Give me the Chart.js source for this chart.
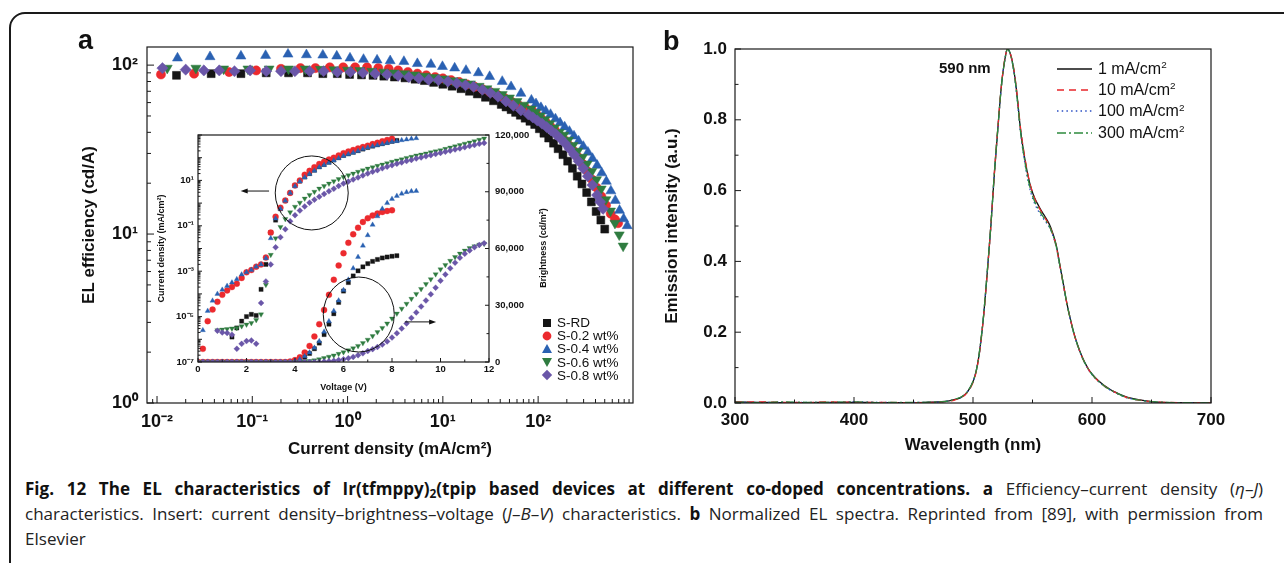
<!DOCTYPE html>
<html>
<head>
<meta charset="utf-8">
<script src="https://cdn.jsdelivr.net/npm/chart.js@4.4.1/dist/chart.umd.min.js"></script>
<style>
body{margin:0;width:1284px;height:563px;overflow:hidden;background:#fff;position:relative;font-family:"Liberation Sans",Arial,sans-serif;color:#111}
canvas{position:absolute}
.frame{position:absolute;left:9px;top:12px;width:1320px;height:620px;border:2.5px solid #1a1a1a;border-radius:16px}
.plbl{position:absolute;font-weight:bold;font-size:27px;line-height:1}
.legA{position:absolute;left:541px;top:316px;font-size:13.5px;line-height:13.2px}
.legA div{display:flex;align-items:center;height:13.2px;white-space:nowrap}
.legA svg{width:12px;height:12px;margin-right:4px}
.legB{position:absolute;left:1055px;top:58px;font-size:16px}
.legB div{display:flex;align-items:center;height:21.3px;white-space:nowrap}
.legB svg{width:38px;height:6px;margin-right:5px}
.up{font-size:62%;position:relative;top:-0.55em}
.rt{position:absolute;white-space:nowrap;font-weight:bold}
.cap{position:absolute;left:25px;top:476px;font-family:"Open Sans",sans-serif;font-size:15px;line-height:25px;color:#222}
.cap span.l{display:inline-block;white-space:nowrap}
.cap b{color:#111}
.cap sub{font-size:70%;vertical-align:-0.25em;line-height:0}
</style>
</head>
<body>
<div class="frame"></div>
<canvas id="cA" width="660" height="470" style="left:0;top:0"></canvas>
<canvas id="cIn" width="430" height="280" style="left:140px;top:120px"></canvas>
<canvas id="cB" width="634" height="470" style="left:650px;top:0"></canvas>

<div class="plbl" style="left:78px;top:27px">a</div>
<div class="plbl" style="left:663px;top:28px">b</div>
<div class="rt" style="left:543px;top:248px;font-size:9px;transform:translate(-50%,-50%) rotate(-90deg)">Brightness (cd/m<span class="up">2</span>)</div>
<div class="rt" style="left:939px;top:60px;font-size:15px;line-height:1">590 nm</div>

<div class="legA" id="legA"></div>
<div class="legB" id="legB"></div>

<div class="cap" id="cap">
<span class="l j"><b>Fig. 12 The EL characteristics of Ir(tfmppy)<sub>2</sub>(tpip based devices at different co-doped concentrations.</b> <b>a</b> Efficiency–current density (<i>η</i>–<i>J</i>)</span><br>
<span class="l j" id="capRef">characteristics. Insert: current density–brightness–voltage (<i>J</i>–<i>B</i>–<i>V</i>) characteristics. <b>b</b> Normalized EL spectra. Reprinted from [89], with permission from</span><br>
<span class="l">Elsevier</span>
</div>

<script>
// ---- panel a, main plot: EL efficiency (cd/A) vs current density (mA/cm2)
var jRD   = [0.016,0.037,0.076,0.14,0.24,0.38,0.55,0.78,1.05,1.4,1.85,2.4,3.1,4,5.1,6.4,8,10,12.5,15.5,19,23,28,34,41,46,52,58,65,73,82,92,103,115,129,145,162,182,204,229,257,288,323,362,406,455,500];
var effRD = [87,89,89,90,90,90,89,89,88,87.5,87,86,85,84,82.5,81,79,77,75,72.5,70,67.5,64.5,61.5,58.5,56.5,54.5,52.5,50.5,48.5,46.5,44.5,42,39.5,37,34.5,32,29.5,27,24.5,22,19.8,17.6,15.5,13.6,12.1,10.7];
var j02   = [0.011,0.0245,0.057,0.11,0.2,0.32,0.46,0.65,0.9,1.2,1.6,2.1,2.7,3.4,4.3,5.4,6.7,8.3,10,12.2,14.8,17.8,21.5,26,31,37,44,52,62,73,86,96,107,120,134,150,168,188,210,235,263,294,329,368,412,461,516,578,640,690];
var eff02 = [88,89,91,93,95,96,96,97,97,97,97,96,95,93,91,89,87,85,83.5,81.5,79.5,77,74.5,72,69.5,67,64,61,58,56,54,51,48.5,46,43.5,41,38.5,36,33.5,31,28.5,26,23.5,21,18.8,16.7,14.8,13.2,12.2,11.6];
var j04   = [0.0164,0.036,0.076,0.138,0.237,0.37,0.55,0.77,1.06,1.47,2.04,2.8,3.9,5.4,7.5,9.9,13.3,17.5,23.6,31,42,52,66,85,95,107,120,135,152,170,190,213,238,266,298,333,372,416,465,520,580,645,715,790,860];
var eff04 = [110,112,113,114,116,115,114.5,113,110,108,107,106,105,102,101,98,96,93,90,85.5,80,74.5,68,62,59,56,53.5,51,48,45.5,43,40.5,38,35.5,33,30.5,28,25.5,23,20.5,18,15.8,13.8,12.3,11.2];
var j06   = [0.0128,0.0256,0.05,0.09,0.15,0.24,0.36,0.52,0.72,1,1.35,1.8,2.4,3.1,4,5.1,6.5,8.2,10.3,12.8,15.8,19.5,24,29,35,42,50,60,71,84,94,105,118,132,148,166,186,208,233,261,292,327,366,410,459,514,575,640,710,780];
var eff06 = [96,96,95,95,95,95,95,94.5,94,93.5,93,92,91,90,89,87.5,86,84.5,83,81,79.5,77.5,75,72.5,70,67,64,61,58,55,52.5,50,47.5,45,42.5,40,38.5,36,33.5,31,28.5,26,23.5,21,18.5,16,13.7,11.6,9.9,8.5];
var j08   = [0.0114,0.02,0.031,0.045,0.065,0.095,0.14,0.2,0.28,0.4,0.56,0.78,1.07,1.45,1.95,2.6,3.4,4.4,5.6,7.1,9,11.3,14,17.3,21,26,31.5,38,46,55,66,79,88,98,110,123,137,153,171,191,213,238,266,297,332,371,415,448,480];
var eff08 = [96,94,93,93,92,93,92,92,92,92,92,91,91,90,89,88,86.5,85,83.5,82,81.5,80,78,76,74.5,71.5,68.5,65,61,57.5,54,51,49,47,45,43,41,39,36.8,34.5,32,29.5,27,24.5,22,19.5,17,15.5,14.1];

// ---- panel a, inset: log10 J (mA/cm2) and brightness (cd/m2) vs voltage
var volts = [0,0.2,0.4,0.6,0.8,1,1.2,1.4,1.6,1.8,2,2.2,2.4,2.6,2.8,3,3.2,3.4,3.6,3.8,4,4.2,4.4,4.6,4.8,5,5.2,5.4,5.6,5.8,6,6.2,6.4,6.6,6.8,7,7.2,7.4,7.6,7.8,8,8.2,8.4,8.6,8.8,9,9.2,9.4,9.6,9.8,10,10.2,10.4,10.6,10.8,11,11.2,11.4,11.6,11.8];
var logJRD = [null,null,null,null,null,null,null,-5.9,-5.5,-5.2,-5.0,-4.9,-4.95,-3.8,-2.7,-1.3,-0.75,-0.25,0.1,0.45,0.78,0.97,1.15,1.3,1.45,1.6,1.7,1.8,1.9,2.0,2.1,2.17,2.24,2.31,2.38,2.45,2.51,2.57,2.62,2.67,2.72,2.76];
var lumRD  = [0,0,0,0,0,0,0,0,0,0,0,0,0,0,0,0,0,0,0,0,500,1200,2500,4500,7000,10000,14500,20000,25500,31500,37500,42000,45500,48200,50300,52000,53200,54200,55000,55500,55900,56200];
var logJ02 = [null,-6.42,-5.2,-4.69,-4.35,-4.04,-3.85,-3.7,-3.55,-3.3,-3.05,-2.95,-2.8,-2.7,-2.4,-1.3,-0.6,-0.2,0.12,0.45,0.78,1.0,1.25,1.42,1.58,1.72,1.82,1.92,2.0,2.1,2.2,2.27,2.34,2.41,2.47,2.53,2.6,2.66,2.72,2.78,2.83];
var lum02  = [0,0,0,0,0,0,0,0,0,0,0,0,0,0,0,0,0,0,0,300,1000,2500,5000,8500,13500,20000,27500,35500,43500,51000,57500,63000,67500,71000,74000,76000,77500,78500,79300,79800,80200];
var logJ04 = [null,-5.6,-4.75,-4.3,-4.0,-3.82,-3.65,-3.5,-3.35,-3.15,-3.05,-2.95,-2.8,-2.7,-2.43,-1.55,-0.68,-0.25,0.1,0.45,0.74,0.95,1.13,1.28,1.43,1.58,1.68,1.78,1.88,1.98,2.08,2.15,2.22,2.3,2.38,2.45,2.5,2.55,2.6,2.65,2.7,2.73,2.77,2.8,2.83,2.86];
var lum04  = [0,0,0,0,0,0,0,0,0,0,0,0,0,0,0,0,0,0,0,0,600,1500,3000,5000,7500,11000,16000,21500,27000,32500,38000,43500,49500,55500,61500,67000,72500,77000,81000,84000,86200,87800,89000,89800,90200,90400];
var logJ06 = [null,null,null,null,-5.6,-5.57,-5.55,-5.52,-5.5,-5.42,-5.35,-5.28,-5.15,-4.9,-3.6,-2.28,-1.55,-1.05,-0.7,-0.4,-0.16,0.02,0.2,0.36,0.5,0.64,0.75,0.86,0.96,1.06,1.15,1.23,1.3,1.38,1.45,1.52,1.58,1.64,1.7,1.76,1.82,1.88,1.93,1.99,2.04,2.1,2.14,2.19,2.24,2.28,2.33,2.39,2.45,2.5,2.56,2.62,2.67,2.73,2.79,2.85];
var lum06  = [0,0,0,0,0,0,0,0,0,0,0,0,0,0,0,0,0,0,0,0,0,0,200,500,900,1500,2100,2800,3500,4300,5200,6200,7300,8500,10000,11800,13700,15800,18000,20400,23000,25600,28200,30800,33400,36000,38600,41200,43800,46400,49000,51300,53500,55500,57300,58900,60200,61200,62000,62500];
var logJ08 = [null,null,null,null,-5.62,-5.7,-5.72,-5.8,-6.42,-6.2,-6.08,-6.05,-6.2,-4.4,-3.45,-2.7,-1.95,-1.5,-1.15,-0.8,-0.53,-0.33,-0.15,0.02,0.15,0.28,0.4,0.52,0.63,0.75,0.86,0.95,1.04,1.13,1.22,1.3,1.38,1.45,1.53,1.6,1.67,1.73,1.79,1.85,1.9,1.96,2.01,2.06,2.11,2.16,2.21,2.26,2.31,2.36,2.41,2.46,2.51,2.56,2.61,2.65];
var lum08  = [0,0,0,0,0,0,0,0,0,0,0,0,0,0,0,0,0,0,0,0,0,0,0,0,0,0,200,400,650,1000,1400,2000,2700,3600,4600,5800,6800,7900,9200,10900,12900,15200,17700,20400,23300,26200,29300,32500,35800,39300,43000,46300,49500,52500,55100,57200,59000,60600,61900,62800];

// ---- panel b: normalized EL spectra
var wavelength = [300,320,340,360,380,400,420,440,460,470,480,485,490,495,500,503,506,509,512,515,518,521,524,527,529,531,533,535,537,540,543,546,549,552,555,558,561,564,567,570,573,576,579,582,585,588,591,594,597,600,605,610,615,620,625,630,640,650,660,680,700];
var el1   = [0.003,0.002,0.001,0.001,0.002,0.002,0.001,0.001,0.002,0.003,0.006,0.01,0.016,0.03,0.06,0.095,0.158,0.25,0.37,0.5,0.65,0.78,0.9,0.975,1.0,0.99,0.965,0.925,0.87,0.77,0.7,0.645,0.605,0.578,0.558,0.54,0.524,0.506,0.48,0.445,0.39,0.335,0.28,0.235,0.195,0.163,0.136,0.114,0.096,0.082,0.064,0.05,0.039,0.03,0.022,0.016,0.009,0.004,0.002,0.001,0];
var el10  = [0.002,0.003,0.002,0.001,0.003,0.002,0.002,0.001,0.001,0.002,0.005,0.009,0.015,0.029,0.058,0.093,0.155,0.248,0.368,0.5,0.652,0.782,0.902,0.977,1.0,0.99,0.967,0.928,0.872,0.775,0.705,0.648,0.606,0.576,0.555,0.537,0.52,0.502,0.477,0.442,0.388,0.333,0.279,0.234,0.194,0.162,0.135,0.113,0.095,0.081,0.063,0.049,0.038,0.029,0.021,0.015,0.008,0.004,0.002,0.001,0];
var el100 = [0.001,0.002,0.002,0.002,0.001,0.003,0.002,0.001,0.002,0.002,0.006,0.01,0.016,0.03,0.06,0.095,0.157,0.25,0.37,0.5,0.65,0.78,0.9,0.975,1.0,0.99,0.963,0.92,0.862,0.762,0.69,0.632,0.59,0.562,0.542,0.526,0.512,0.498,0.474,0.44,0.386,0.332,0.278,0.233,0.193,0.161,0.134,0.112,0.094,0.08,0.062,0.048,0.037,0.028,0.02,0.014,0.008,0.003,0.001,0.001,0];
var el300 = [0.002,0.001,0.003,0.002,0.002,0.003,0.001,0.002,0.002,0.003,0.006,0.011,0.017,0.031,0.061,0.096,0.16,0.252,0.372,0.502,0.652,0.782,0.9,0.974,1.0,0.99,0.963,0.922,0.865,0.765,0.694,0.637,0.596,0.568,0.548,0.531,0.516,0.5,0.476,0.442,0.388,0.334,0.279,0.234,0.194,0.162,0.135,0.113,0.095,0.081,0.063,0.049,0.038,0.029,0.021,0.015,0.008,0.004,0.002,0.001,0];

var devices = ['S-RD','S-0.2 wt%','S-0.4 wt%','S-0.6 wt%','S-0.8 wt%'];
var spectraLabels = ['1 mA/cm²','10 mA/cm²','100 mA/cm²','300 mA/cm²'];

// inset annotations (loops and arrows), in data coordinates
var loops  = [{v:4.69, y:2.8, axis:'yJ', rx:36.5, ry:37}, {v:6.63, y:25100, axis:'yB', rx:35.5, ry:37.5}];
var arrows = [{v1:2.93, v2:1.76, y:3.4, axis:'yJ'}, {v1:8.53, v2:9.82, y:21200, axis:'yB'}];

var cRD = '#151515', c02 = '#ec2a2e', c04 = '#2a61b2', c06 = '#2f7c40', c08 = '#6a56a8';
var colors = [cRD, c02, c04, c06, c08];
var shapes = ['rect','circle','triangle','triangle','rectRot'];
var rots = [0,0,0,180,0];

Chart.defaults.font.family = '"Liberation Sans", Arial, sans-serif';
Chart.defaults.color = '#111';

var SUP = {'-':'⁻','0':'⁰','1':'¹','2':'²','3':'³','4':'⁴','5':'⁵','6':'⁶','7':'⁷','8':'⁸','9':'⁹'};
function decadeOf(v){
  var e = Math.round(Math.log10(v));
  return Math.abs(v / Math.pow(10, e) - 1) < 1e-6 ? e : null;
}
function isLogStep(v){
  var e = Math.floor(Math.log10(v) + 1e-9);
  var m = v / Math.pow(10, e);
  return Math.abs(m - Math.round(m)) < 1e-6;
}
function powLabel(e){
  return '10' + String(e).split('').map(function(c){ return SUP[c]; }).join('');
}
function logKind(v){ return decadeOf(v) !== null ? 'major' : (isLogStep(v) ? 'minor' : null); }

// frame + inward tick marks
function frameTicks(axes){
  return {
    id: 'frameTicks',
    afterDatasetsDraw: function(chart){
      var ctx = chart.ctx, a = chart.chartArea;
      ctx.save();
      ctx.strokeStyle = '#1a1a1a';
      ctx.lineWidth = 1.2;
      ctx.strokeRect(a.left, a.top, a.right - a.left, a.bottom - a.top);
      ctx.lineWidth = 1;
      axes.forEach(function(ax){
        var sc = chart.scales[ax.id];
        sc.ticks.forEach(function(t){
          var k = ax.kind(t.value);
          if (!k) return;
          var len = k === 'major' ? ax.major : ax.minor;
          var p = sc.getPixelForValue(t.value);
          ctx.beginPath();
          if (ax.side === 'bottom'){ ctx.moveTo(p, a.bottom); ctx.lineTo(p, a.bottom - len); }
          else if (ax.side === 'left'){ ctx.moveTo(a.left, p); ctx.lineTo(a.left + len, p); }
          else { ctx.moveTo(a.right, p); ctx.lineTo(a.right - len, p); }
          ctx.stroke();
        });
      });
      ctx.restore();
    }
  };
}

function zip(xs, ys, f){
  var out = [];
  for (var i = 0; i < Math.min(xs.length, ys.length); i++){
    if (ys[i] === null) continue;
    out.push({x: xs[i], y: f ? f(ys[i]) : ys[i]});
  }
  return out;
}

var baseOpts = {responsive:false, animation:false, events:[], plugins:{legend:{display:false}, tooltip:{enabled:false}}};
var noGrid = {display:false, drawTicks:false};

// ---------- panel a main
var mainX = [jRD, j02, j04, j06, j08];
var mainY = [effRD, eff02, eff04, eff06, eff08];
var mainRadius = [5.6, 4.6, 5.8, 5.8, 5.6];
var mainSets = devices.map(function(name, i){
  return {label:name, data:zip(mainX[i], mainY[i]), pointStyle:shapes[i], pointRotation:rots[i],
    pointRadius:mainRadius[i], backgroundColor:colors[i], borderColor:colors[i], borderWidth:0.5,
    showLine:false, order:4 - i};
});

new Chart(document.getElementById('cA'), {
  type:'scatter',
  data:{datasets:mainSets},
  options:Object.assign({}, baseOpts, {
    layout:{padding:{left:75, top:47, right:27, bottom:0}},
    scales:{
      x:{type:'logarithmic', min:0.00785, max:990, grid:noGrid, border:{display:false},
        ticks:{autoSkip:false, maxRotation:0, padding:8, font:{size:18, weight:'bold'},
          callback:function(v){ var e = decadeOf(v); return e === null ? '' : powLabel(e); }},
        title:{display:true, text:'Current density (mA/cm²)', font:{size:17, weight:'bold'}, padding:{top:0, bottom:10}},
        afterFit:function(s){ s.height = 67; }},
      y:{type:'logarithmic', min:1, max:128, grid:noGrid, border:{display:false},
        ticks:{autoSkip:false, padding:9, font:{size:18, weight:'bold'},
          callback:function(v){ var e = decadeOf(v); return e === null ? '' : powLabel(e); }},
        title:{display:true, text:'EL efficiency (cd/A)', font:{size:17, weight:'bold'}, padding:{top:4, bottom:0}},
        afterFit:function(s){ s.width = 72; }}
    }
  }),
  plugins:[frameTicks([
    {id:'x', side:'bottom', major:7, minor:4, kind:logKind},
    {id:'y', side:'left', major:7, minor:4, kind:logKind}
  ])]
});

// ---------- panel a inset
var insetJ = [logJRD, logJ02, logJ04, logJ06, logJ08];
var insetL = [lumRD, lum02, lum04, lum06, lum08];
var insetSets = [];
devices.forEach(function(name, i){
  var common = {pointStyle:shapes[i], pointRotation:rots[i], pointRadius:3, backgroundColor:colors[i],
    borderColor:colors[i], borderWidth:0.3, showLine:false, order:4 - i};
  insetSets.push(Object.assign({label:name + ' J', yAxisID:'yJ',
    data:zip(volts, insetJ[i], function(v){ return Math.pow(10, v); })}, common));
  insetSets.push(Object.assign({label:name + ' B', yAxisID:'yB', data:zip(volts, insetL[i])}, common));
});

var insetMarks = {
  id:'insetMarks',
  afterDatasetsDraw:function(chart){
    var ctx = chart.ctx, x = chart.scales.x;
    ctx.save();
    ctx.strokeStyle = '#111'; ctx.fillStyle = '#111'; ctx.lineWidth = 1;
    loops.forEach(function(o){
      var sc = chart.scales[o.axis];
      ctx.beginPath();
      ctx.ellipse(x.getPixelForValue(o.v), sc.getPixelForValue(o.y), o.rx, o.ry, 0, 0, Math.PI * 2);
      ctx.stroke();
    });
    arrows.forEach(function(o){
      var sc = chart.scales[o.axis];
      var x1 = x.getPixelForValue(o.v1), x2 = x.getPixelForValue(o.v2), y = sc.getPixelForValue(o.y);
      var d = x2 > x1 ? 1 : -1;
      ctx.beginPath(); ctx.moveTo(x1, y); ctx.lineTo(x2 - d * 5, y); ctx.stroke();
      ctx.beginPath(); ctx.moveTo(x2, y); ctx.lineTo(x2 - d * 7, y - 2.5); ctx.lineTo(x2 - d * 7, y + 2.5); ctx.closePath(); ctx.fill();
    });
    ctx.restore();
  }
};

new Chart(document.getElementById('cIn'), {
  type:'scatter',
  data:{datasets:insetSets},
  options:Object.assign({}, baseOpts, {
    layout:{padding:{left:10, top:15, right:30, bottom:0}},
    scales:{
      x:{type:'linear', min:0, max:12, grid:noGrid, border:{display:false},
        ticks:{stepSize:1, autoSkip:false, maxRotation:0, padding:2, font:{size:9.5, weight:'bold'},
          callback:function(v){ return v % 2 === 0 ? String(v) : ''; }},
        title:{display:true, text:'Voltage (V)', font:{size:9, weight:'bold'}, padding:{top:0, bottom:7}},
        afterFit:function(s){ s.height = 38; }},
      yJ:{type:'logarithmic', position:'left', min:1e-7, max:1e3, grid:noGrid, border:{display:false},
        ticks:{autoSkip:false, padding:4, font:{size:9.5, weight:'bold'},
          callback:function(v){ var e = decadeOf(v); return (e !== null && e < 3 && Math.abs(e % 2) === 1) ? powLabel(e) : ''; }},
        title:{display:true, text:'Current density (mA/cm²)', font:{size:9, weight:'bold'}, padding:{top:6, bottom:0}},
        afterFit:function(s){ s.width = 48; }},
      yB:{type:'linear', position:'right', min:0, max:120000, grid:noGrid, border:{display:false},
        ticks:{stepSize:15000, autoSkip:false, padding:6, font:{size:9.5, weight:'bold'},
          callback:function(v){ return v % 30000 === 0 ? v.toLocaleString('en-US') : ''; }},
        afterFit:function(s){ s.width = 51; }}
    }
  }),
  plugins:[frameTicks([
    {id:'x', side:'bottom', major:4, minor:2.5, kind:function(v){ return v % 2 === 0 ? 'major' : 'minor'; }},
    {id:'yJ', side:'left', major:4, minor:2.5, kind:logKind},
    {id:'yB', side:'right', major:4, minor:2.5, kind:function(v){ return v % 30000 === 0 ? 'major' : 'minor'; }}
  ]), insetMarks]
});

// ---------- panel b
var spectra = [el1, el10, el100, el300];
var specColors = ['#111111', '#e8262a', '#2a4fc4', '#2e8a3e'];
var specDash = [[], [7, 5], [1.5, 3.2], [9, 3, 2, 3]];
var specOrder = [3, 1, 2, 0];
var specSets = spectraLabels.map(function(name, i){
  return {label:name, data:zip(wavelength, spectra[i]), showLine:true, pointRadius:0, borderColor:specColors[i],
    borderWidth:1.3, borderDash:specDash[i], cubicInterpolationMode:'monotone', fill:false, order:specOrder[i]};
});

new Chart(document.getElementById('cB'), {
  type:'scatter',
  data:{datasets:specSets},
  options:Object.assign({}, baseOpts, {
    layout:{padding:{left:10, top:49, right:73, bottom:0}},
    scales:{
      x:{type:'linear', min:300, max:700, grid:noGrid, border:{display:false},
        ticks:{stepSize:50, autoSkip:false, maxRotation:0, padding:7, font:{size:17, weight:'bold'},
          callback:function(v){ return v % 100 === 0 ? String(v) : ''; }},
        title:{display:true, text:'Wavelength (nm)', font:{size:17, weight:'bold'}, padding:{top:0, bottom:14}},
        afterFit:function(s){ s.height = 67; }},
      y:{type:'linear', min:0, max:1, grid:noGrid, border:{display:false},
        ticks:{stepSize:0.1, autoSkip:false, padding:8, font:{size:17, weight:'bold'},
          callback:function(v){ return Math.round(v * 10) % 2 === 0 ? v.toFixed(1) : ''; }},
        title:{display:true, text:'Emission intensity (a.u.)', font:{size:17, weight:'bold'}, padding:{top:2, bottom:0}},
        afterFit:function(s){ s.width = 75; }}
    }
  }),
  plugins:[frameTicks([
    {id:'x', side:'bottom', major:6, minor:3.5, kind:function(v){ return v % 100 === 0 ? 'major' : 'minor'; }},
    {id:'y', side:'left', major:6, minor:3.5, kind:function(v){ return Math.round(v * 10) % 2 === 0 ? 'major' : 'minor'; }}
  ])]
});

// ---------- legends
var markerSvg = [
  '<rect x="2" y="2" width="8" height="8"/>',
  '<circle cx="6" cy="6" r="4.4"/>',
  '<polygon points="6,1 11,10 1,10"/>',
  '<polygon points="6,11 11,2 1,2"/>',
  '<polygon points="6,0.8 11.2,6 6,11.2 0.8,6"/>'
];
document.getElementById('legA').innerHTML = devices.map(function(name, i){
  return '<div><svg viewBox="0 0 12 12" fill="' + colors[i] + '">' + markerSvg[i] + '</svg>' + name + '</div>';
}).join('');

document.getElementById('legB').innerHTML = spectraLabels.map(function(name, i){
  var dash = specDash[i].length ? ' stroke-dasharray="' + specDash[i].join(' ') + '"' : '';
  return '<div><svg viewBox="0 0 38 6"><line x1="2" y1="3" x2="37" y2="3" stroke="' + specColors[i] +
    '" stroke-width="1.4"' + dash + '/></svg><span>' + name.replace('²', '<span class="up">2</span>') + '</span></div>';
}).join('');

// ---------- caption: size the text so the plain line fills the column, then justify
var capWidth = 1238;
var capEl = document.getElementById('cap');
var refW = document.getElementById('capRef').getBoundingClientRect().width;
capEl.style.fontSize = Math.min(19, 15 * (capWidth - 60) / refW) + 'px';
document.querySelectorAll('.cap span.j').forEach(function(el){
  el.style.wordSpacing = '0px';
  var w = el.getBoundingClientRect().width;
  var n = (el.textContent.match(/ /g) || []).length;
  if (n) el.style.wordSpacing = ((capWidth - w) / n) + 'px';
});
</script>
</body>
</html>
